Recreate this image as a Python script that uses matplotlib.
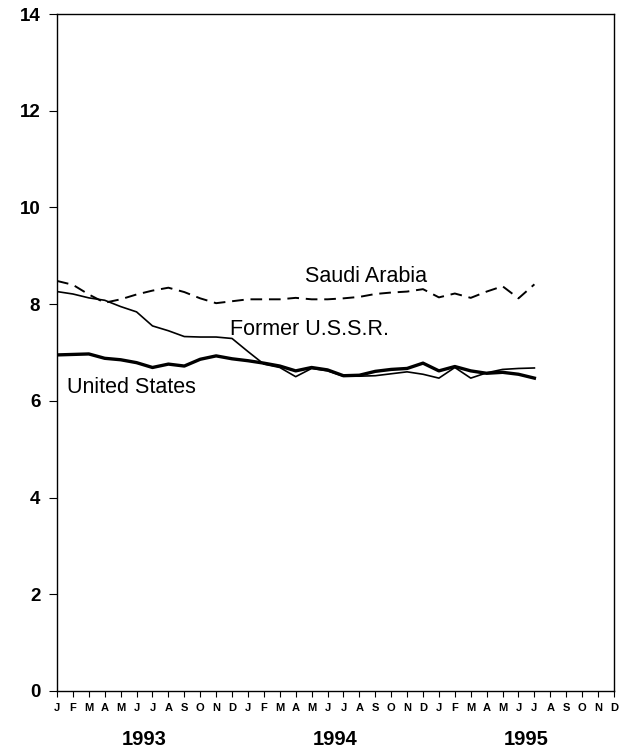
import matplotlib.pyplot as plt

plt.rcParams['font.family'] = ['Liberation Sans', 'DejaVu Sans']

# monthly values, Jan 1993 .. Jul 1995
saudi = [8.48, 8.40, 8.20, 8.03, 8.10, 8.20, 8.28, 8.34, 8.25, 8.12, 8.02, 8.06,
         8.10, 8.10, 8.10, 8.13, 8.10, 8.10, 8.12, 8.15, 8.21, 8.24, 8.26, 8.31,
         8.14, 8.22, 8.13, 8.26, 8.37, 8.12, 8.41]
ussr = [8.26, 8.21, 8.13, 8.08, 7.95, 7.84, 7.55, 7.45, 7.33, 7.32, 7.32, 7.29,
        7.02, 6.76, 6.69, 6.50, 6.67, 6.62, 6.51, 6.51, 6.52, 6.56, 6.60, 6.55,
        6.47, 6.69, 6.47, 6.58, 6.65, 6.67, 6.68]
usa = [6.95, 6.96, 6.97, 6.88, 6.85, 6.79, 6.69, 6.76, 6.72, 6.86, 6.93, 6.87,
       6.83, 6.78, 6.72, 6.62, 6.69, 6.64, 6.52, 6.53, 6.61, 6.65, 6.67, 6.78,
       6.62, 6.71, 6.62, 6.57, 6.59, 6.55, 6.47]
month_letters = ['J', 'F', 'M', 'A', 'M', 'J', 'J', 'A', 'S', 'O', 'N', 'D']
years = ['1993', '1994', '1995']

fig = plt.figure(figsize=(6.29, 7.5), dpi=100)
ax = fig.add_axes([0.0906, 0.0787, 0.8855, 0.9026])

ax.plot(range(len(saudi)), saudi, color='black', lw=1.4, dashes=(6, 3.5))
ax.plot(range(len(ussr)), ussr, color='black', lw=1.2)
ax.plot(range(len(usa)), usa, color='black', lw=2.4)

ax.text(15.6, 8.35, 'Saudi Arabia', fontsize=15.5, ha='left', va='bottom')
ax.text(10.9, 7.25, 'Former U.S.S.R.', fontsize=15.5, ha='left', va='bottom')
ax.text(0.6, 6.05, 'United States', fontsize=15.5, ha='left', va='bottom')

ax.set_xlim(0, 35)
ax.set_ylim(0, 14)
ax.set_yticks(range(0, 15, 2))
ax.set_yticklabels([str(v) for v in range(0, 15, 2)], fontsize=13.5, fontweight='bold')
ax.set_xticks(range(36))
ax.set_xticklabels(month_letters * 3, fontsize=8, fontweight='bold')
ax.tick_params(axis='x', length=4, width=0.8, pad=5)
ax.tick_params(axis='y', length=6, width=0.8, pad=6)
for s in ax.spines.values():
    s.set_linewidth(1.0)

for k, yr in enumerate(years):
    ax.text(5.5 + 12 * k, -0.058, yr, transform=ax.get_xaxis_transform(),
            ha='center', va='top', fontsize=14.5, fontweight='bold')

fig.savefig('out.png', dpi=100)
